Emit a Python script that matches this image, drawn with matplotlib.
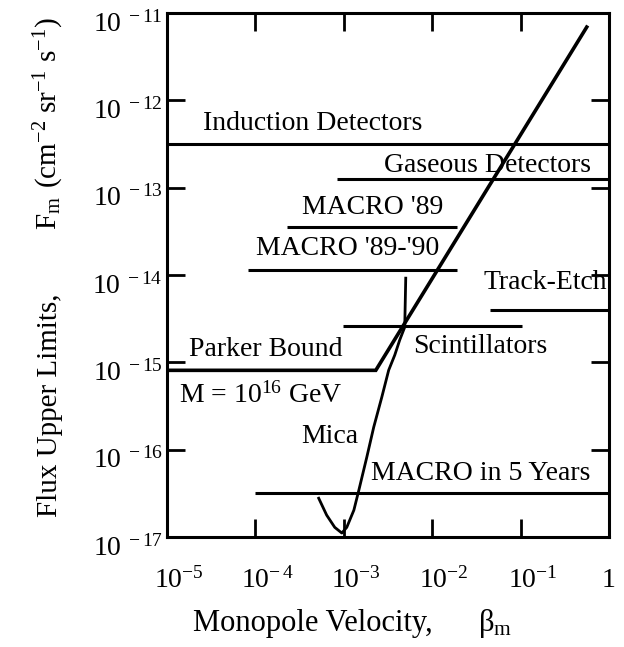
import matplotlib
matplotlib.use("Agg")
import matplotlib.pyplot as plt
from matplotlib.transforms import ScaledTranslation

plt.rcParams.update({
    "font.family": ["Liberation Serif", "DejaVu Serif"],
    "font.size": 20,
    "mathtext.fontset": "custom",
    "mathtext.rm": "Liberation Serif",
    "mathtext.it": "Liberation Serif:italic",
    "mathtext.bf": "Liberation Serif:bold",
    "axes.linewidth": 2.2,
})

# horizontal flux limits (beta range, flux)
limit_names = ["Induction Detectors", "Gaseous Detectors", "MACRO '89", "MACRO '89-'90",
               "Track-Etch", "Scintillators", "MACRO in 5 Years"]
limit_flux = [3.2e-13, 1.25e-13, 3.5e-14, 1.15e-14, 4.0e-15, 2.6e-15, 3.2e-17]
limit_beta_lo = [1e-5, 8.3e-4, 2.3e-4, 8.3e-5, 4.5e-2, 9.8e-4, 1.0e-4]
limit_beta_hi = [1.0, 1.0, 1.9e-2, 1.9e-2, 1.0, 0.105, 1.0]

# Parker bound for M = 1e16 GeV
parker_beta = [1e-5, 2.3e-3, 0.56]
parker_flux = [8.1e-16, 8.1e-16, 6.9e-12]

# mica limit
mica_beta = [5.2e-4, 6.4e-4, 7.9e-4, 9.5e-4, 1.08e-3, 1.30e-3, 1.48e-3, 1.82e-3,
             2.18e-3, 2.69e-3, 3.22e-3, 3.77e-3, 4.29e-3, 4.89e-3, 5.02e-3]
mica_flux = [2.78e-17, 1.78e-17, 1.29e-17, 1.11e-17, 1.29e-17, 2.03e-17, 3.44e-17, 8.2e-17,
             1.81e-16, 3.99e-16, 8.14e-16, 1.21e-15, 1.80e-15, 2.53e-15, 9.2e-15]

xticks = [1e-5, 1e-4, 1e-3, 1e-2, 1e-1, 1]
xtick_labels = [r"$10^{-5}$", r"$10^{-\,4}$", r"$10^{-3}$", r"$10^{-2}$", r"$10^{-1}$", "1"]
yticks = [1e-17, 1e-16, 1e-15, 1e-14, 1e-13, 1e-12, 1e-11]
ytick_labels = [r"$10^{\ -%d}$" % n for n in (17, 16, 15, 14, 13, 12, 11)]

# where the curve labels sit
label_text = limit_names + ["Parker Bound", r"M = 10$^{16}$ GeV", "Mica"]
label_x = [4.5e-4, 4.2e-2, 2.1e-3, 1.1e-3, 0.19, 3.5e-2, 3.5e-2, 1.3e-4, 1.15e-4, 6.9e-4]
label_y = [5.4e-13, 1.8e-13, 5.9e-14, 2.0e-14, 8.1e-15, 1.5e-15, 5.4e-17, 1.4e-15, 4.2e-16, 1.4e-16]


def main():
    fig = plt.figure(figsize=(6.24, 6.47), dpi=100, facecolor="white")
    ax = fig.add_axes([167 / 624, 1 - 537 / 647, 442 / 624, 524 / 647])
    ax.set_xscale("log")
    ax.set_yscale("log")
    ax.set_xlim(1e-5, 1)
    ax.set_ylim(1e-17, 1e-11)

    for f, lo, hi in zip(limit_flux, limit_beta_lo, limit_beta_hi):
        ax.plot([lo, hi], [f, f], color="black", lw=2.2, solid_capstyle="butt", clip_on=False)
    ax.plot(parker_beta, parker_flux, color="black", lw=2.6, solid_joinstyle="miter")
    ax.plot(mica_beta, mica_flux, color="black", lw=2.0, solid_joinstyle="round")

    for t, x, y in zip(label_text, label_x, label_y):
        ax.text(x, y, t, ha="center", va="center", fontsize=20)

    ax.set_xticks(xticks)
    ax.set_xticklabels(xtick_labels)
    ax.set_yticks(yticks)
    ax.set_yticklabels(ytick_labels)
    ax.minorticks_off()
    ax.tick_params(which="major", direction="in", length=13, width=2,
                   top=True, right=True, labelsize=20)
    ax.tick_params(axis="y", pad=3)
    ax.tick_params(axis="x", pad=22)

    down = ScaledTranslation(0, -8 / 100, fig.dpi_scale_trans)
    for lab in ax.get_yticklabels():
        lab.set_transform(lab.get_transform() + down)
    right = ScaledTranslation(12 / 100, 0, fig.dpi_scale_trans)
    for lab in ax.get_xticklabels()[:-1]:
        lab.set_transform(lab.get_transform() + right)

    # y label, set in three spaced pieces like the original
    ylab_kw = dict(rotation=90, rotation_mode="anchor", ha="center", va="baseline", fontsize=21)
    fig.text(57 / 624, 1 - 405 / 647, "Flux Upper Limits,", **ylab_kw)
    fig.text(57 / 624, 1 - 213 / 647, r"F$_{\rm m}$", **ylab_kw)
    fig.text(57 / 624, 1 - 103 / 647, r"(cm$^{-2}$ sr$^{-1}$ s$^{-1}$)", **ylab_kw)

    fig.text(193 / 624, 1 - 631 / 647, "Monopole Velocity,",
             ha="left", va="baseline", fontsize=22)
    fig.text(478 / 624, 1 - 631 / 647, r"β$_{\rm m}$",
             ha="left", va="baseline", fontsize=22)

    fig.savefig("out.png", dpi=100, facecolor="white")
    plt.close(fig)


if __name__ == "__main__":
    main()
